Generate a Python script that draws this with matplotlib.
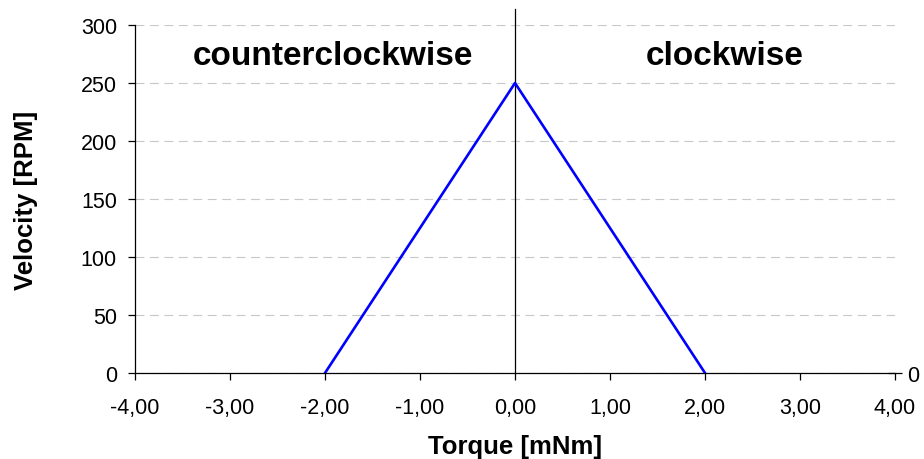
import matplotlib
matplotlib.use("Agg")
import matplotlib.pyplot as plt

plt.rcParams["font.family"] = ["Liberation Sans", "DejaVu Sans"]

# speed / torque curve of the motor in both directions
torque = [-2.0, 0.0, 2.0]
velocity = [0, 250, 0]

x_ticks = [-4, -3, -2, -1, 0, 1, 2, 3, 4]
x_tick_labels = ["-4,00", "-3,00", "-2,00", "-1,00", "0,00", "1,00", "2,00", "3,00", "4,00"]
y_ticks = [0, 50, 100, 150, 200, 250, 300]

regions = ["counterclockwise", "clockwise"]
region_pos = [(-1.92, 274), (2.21, 274)]

fig = plt.figure(figsize=(9.24, 4.6), dpi=100)
ax = fig.add_axes([135 / 924, 86 / 460, 760 / 924, 348 / 460])

ax.plot(torque, velocity, color="#0000ff", linewidth=1.9, zorder=3)

ax.set_xlim(-4, 4)
ax.set_ylim(0, 300)
ax.set_xticks(x_ticks)
ax.set_xticklabels(x_tick_labels)
ax.set_yticks(y_ticks)
ax.yaxis.grid(True, color="#c8c8c8", linestyle=(0, (8, 5)), linewidth=0.8)
ax.set_axisbelow(True)

for side in ("top", "right"):
    ax.spines[side].set_visible(False)
ax.spines["left"].set_linewidth(0.9)
ax.spines["bottom"].set_linewidth(0.9)
ax.tick_params(axis="both", direction="out", length=5, width=0.9, labelsize=15.5)
ax.tick_params(axis="y", pad=8)
ax.tick_params(axis="x", pad=12)

# vertical axis at zero torque
ax.axvline(0, ymin=0, ymax=1.045, color="black", linewidth=0.9, clip_on=False, zorder=2)

# secondary axis on the right, only the zero tick is visible
ax2 = ax.twinx()
ax2.set_ylim(0, 300)
ax2.set_yticks([0])
for side in ("top", "right", "left", "bottom"):
    ax2.spines[side].set_visible(False)
ax2.tick_params(axis="y", direction="inout", length=10, width=0.9, labelsize=15.5, pad=4)

for name, (px, py) in zip(regions, region_pos):
    ax.text(px, py, name, ha="center", va="center", fontsize=24, fontweight="bold")

ax.set_xlabel("Torque [mNm]", fontsize=18.5, fontweight="bold")
ax.set_ylabel("Velocity [RPM]", fontsize=18.5, fontweight="bold")
ax.xaxis.set_label_coords(0.5, -0.175)
ax.yaxis.set_label_coords(-0.128, 0.5)

fig.savefig("out.png", dpi=100)
